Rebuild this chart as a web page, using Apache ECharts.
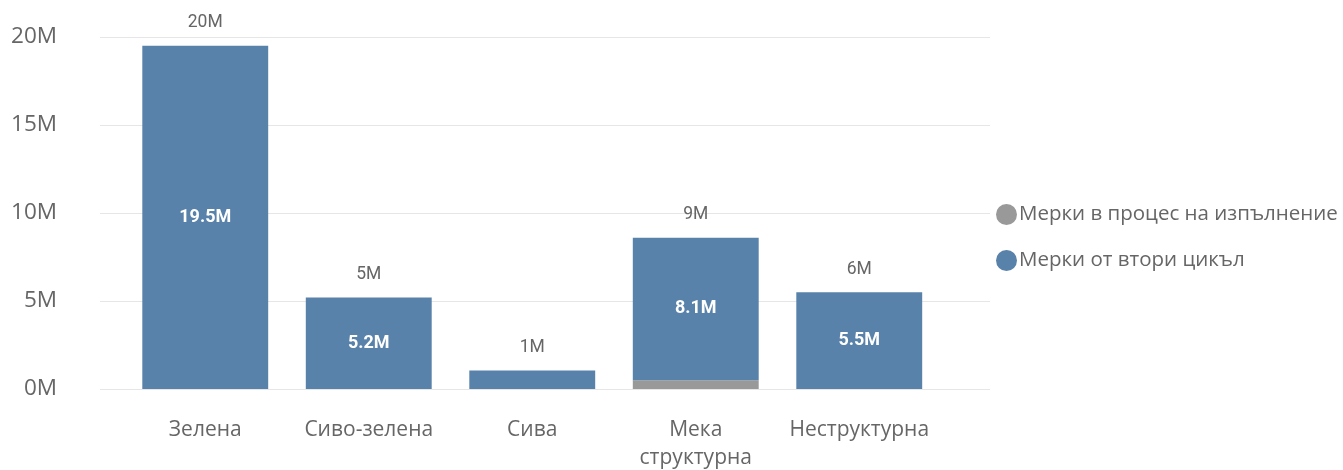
<!DOCTYPE html>
<html>
<head>
<meta charset="utf-8">
<script src="https://cdn.jsdelivr.net/npm/echarts@6/dist/echarts.min.js"></script>
<style>
  html, body { margin: 0; padding: 0; background: #fff; }
  #chart { width: 1343px; height: 470px; }
</style>
</head>
<body>
<div id="chart"></div>
<script>
// Categories and values (millions)
const categories = ['Зелена', 'Сиво-зелена', 'Сива', 'Мека структурна', 'Неструктурна'];
const inProgress = [0, 0, 0, 0.5, 0];            // Мерки в процес на изпълнение
const secondCycle = [19.5, 5.2, 1.05, 8.1, 5.5]; // Мерки от втори цикъл
const yTicks = [0, 5, 10, 15, 20];

const seriesNames = ['Мерки в процес на изпълнение', 'Мерки от втори цикъл'];
const totals = categories.map((_, i) => inProgress[i] + secondCycle[i]);

const textGray = '#666666';
const labelFont = 'Roboto, "DejaVu Sans Condensed", sans-serif';
const uiFont = '"Open Sans", "Noto Sans", sans-serif';
const yMin = yTicks[0];
const yMax = yTicks[yTicks.length - 1];

const chart = echarts.init(document.getElementById('chart'), null, { renderer: 'canvas' });

chart.setOption({
  animation: false,
  textStyle: { fontFamily: uiFont },
  grid: [
    // full-width grid carrying the value axis and gridlines
    { left: 100, right: 353, top: 37, bottom: 81, outerBoundsMode: 'none' },
    // inset grid carrying the bars
    { left: 123.5, right: 402, top: 37, bottom: 81, outerBoundsMode: 'none' }
  ],
  legend: {
    data: seriesNames,
    orient: 'vertical',
    left: 991,
    top: 199,
    icon: 'circle',
    itemWidth: 21,
    itemHeight: 21,
    itemGap: 25,
    textStyle: { color: textGray, fontSize: 20.5, fontFamily: uiFont, padding: [0, 0, 0, -3] }
  },
  xAxis: [
    { type: 'category', gridIndex: 0, data: [''], show: false },
    {
      type: 'category',
      gridIndex: 1,
      data: categories,
      axisLine: { show: false },
      axisTick: { show: false },
      axisLabel: {
        color: textGray,
        fontSize: 21,
        fontFamily: uiFont,
        margin: 27,
        lineHeight: 28,
        interval: 0,
        formatter: v => v.replace(' ', '\n')
      }
    }
  ],
  yAxis: [
    {
      type: 'value',
      gridIndex: 0,
      min: yMin,
      max: yMax,
      interval: 5,
      axisLine: { show: false },
      axisTick: { show: false },
      splitLine: { lineStyle: { color: '#E6E6E6', width: 1 } },
      axisLabel: {
        color: textGray,
        fontSize: 22.5,
        fontFamily: uiFont,
        margin: 43,
        formatter: v => v + 'M'
      }
    },
    {
      type: 'value',
      gridIndex: 1,
      min: yMin,
      max: yMax,
      interval: 5,
      show: false,
      splitLine: { show: false }
    }
  ],
  series: [
    {
      name: seriesNames[0],
      type: 'bar',
      xAxisIndex: 1,
      yAxisIndex: 1,
      stack: 'total',
      barCategoryGap: '23%',
      itemStyle: { color: '#999999' },
      data: inProgress
    },
    {
      name: seriesNames[1],
      type: 'bar',
      xAxisIndex: 1,
      yAxisIndex: 1,
      stack: 'total',
      barCategoryGap: '23%',
      itemStyle: { color: '#5882A9' },
      label: {
        show: true,
        position: 'inside',
        color: '#ffffff',
        fontFamily: labelFont,
        fontWeight: 'bold',
        fontSize: 18,
        formatter: p => p.value.toFixed(1) + 'M'
      },
      data: secondCycle.map(v => ({
        value: v,
        label: { show: v >= 2 }
      }))
    },
    {
      // zero-height cap carrying the stack total label
      name: 'total',
      type: 'bar',
      xAxisIndex: 1,
      yAxisIndex: 1,
      stack: 'total',
      barCategoryGap: '23%',
      itemStyle: { color: 'transparent' },
      label: {
        show: true,
        position: 'top',
        distance: 14,
        color: textGray,
        fontFamily: labelFont,
        fontSize: 17.5,
        formatter: p => Math.round(totals[p.dataIndex]) + 'M'
      },
      data: categories.map(() => 0)
    }
  ]
});
</script>
</body>
</html>
